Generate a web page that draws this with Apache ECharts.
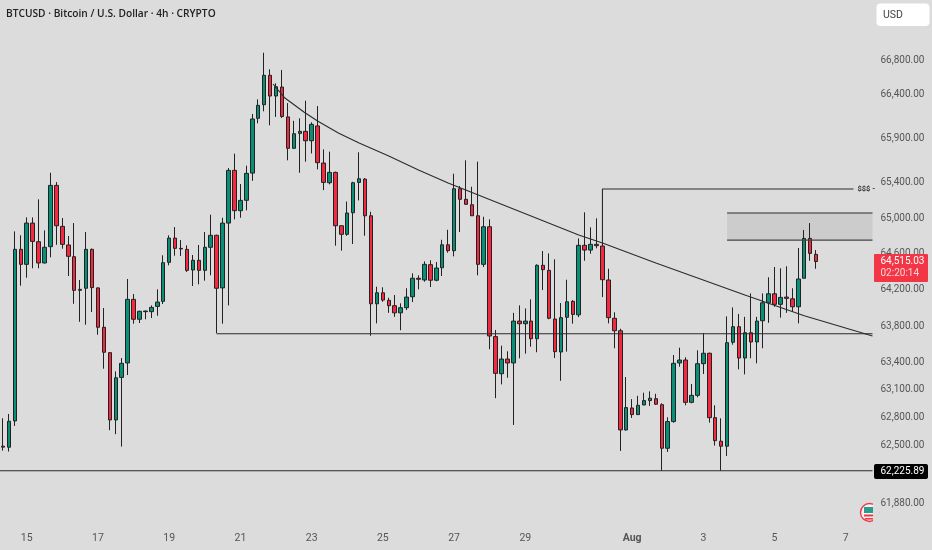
<!DOCTYPE html>
<html>
<head>
<meta charset="utf-8">
<script src="https://cdn.jsdelivr.net/npm/echarts@6/dist/echarts.min.js"></script>
<style>html,body{margin:0;padding:0;background:#dcdcdc}#c{width:932px;height:550px}</style>
</head>
<body>
<div id="c"></div>
<script>
const opens=[62490,62479,62763,64651,64484,64945,64736,64499,64681,65369,64908,64700,64569,64206,64218,64651,64222,63787,63508,62774,
63237,63395,64095,63875,63959,63959,64017,64073,64506,64777,64662,64651,64421,64529,64417,64674,64808,64222,64945,65539,
65084,65201,65508,66131,66286,66624,66386,66489,66147,65789,65959,65982,65875,66044,65622,65399,65516,64915,64819,65061,
65403,65440,65027,64046,64168,64084,64025,63946,64003,64124,64329,64310,64480,64307,64446,64702,64636,65331,65212,65151,
65027,64484,64904,63684,63277,63438,63395,63855,63826,63855,63661,64473,64417,63878,63515,63897,64073,63924,64696,64643,
64707,64688,64310,63886,63749,62666,62904,62832,62937,62984,63005,62940,62468,62756,63395,63427,62965,63041,63387,63501,
62799,62544,62490,63622,63793,63449,63727,63625,63859,64057,64157,64040,64120,64101,64013,64329,64773,64595];
const closes=[62480,62760,64651,64484,64945,64740,64499,64674,65369,64915,64707,64573,64195,64195,64651,64225,63787,63512,62774,63233,
63391,64095,63875,63963,63966,64006,64065,64502,64777,64662,64655,64417,64529,64417,64674,64808,64218,64945,65539,65084,
65200,65505,66123,66279,66624,66386,66493,66152,65789,65955,65982,65875,66062,65626,65403,65516,64915,64819,65058,65399,
65444,65027,64046,64168,64087,64025,63946,64003,64120,64329,64318,64484,64307,64443,64702,64636,65331,65212,65156,65027,
64484,64904,63691,63281,63438,63395,63855,63826,63855,63661,64473,64425,63886,63519,63893,64068,63929,64696,64643,64707,
64692,64313,63893,63749,62666,62908,62832,62933,62984,63010,62945,62468,62756,63391,63427,62965,63041,63387,63501,62799,
62550,62490,63617,63793,63449,63727,63625,63855,64057,64157,64040,64117,64106,64013,64321,64773,64606,64515.03];
const lows=[62442,62432,62709,64247,64335,64440,64440,64495,64562,64702,64658,64354,64046,63847,63815,63955,63705,63332,62663,62620,
62486,63263,63826,63834,63875,63889,63914,64043,64473,64580,64577,64399,64243,64262,64302,64362,63721,63826,64028,64987,
65005,65088,65421,66074,66211,66051,66147,66134,65653,65784,65512,65637,65731,65550,65316,65381,64692,64636,64803,64711,
65200,64803,63694,63830,64068,63946,63902,63754,63977,64065,64206,64291,64232,64296,64354,64614,64573,64845,65151,65024,
64362,64454,63545,63010,63161,63233,62720,63446,63497,63573,63512,64198,63875,63449,63200,63519,63826,63899,64524,64602,
64662,64120,63830,63556,62439,62658,62796,62828,62933,62926,62937,62226,62428,62745,63354,62933,62955,63020,63274,62745,
62496,62226,62385,63595,63325,63270,63446,63391,63556,63836,64013,63893,63946,63957,63830,64329,64524,64435];
const highs=[62792,62839,64852,64808,65009,65009,65212,64863,65512,65406,65002,64800,64945,64310,64845,64660,64229,63999,63510,63303,
63449,64321,64154,63970,63970,64028,64206,64585,64808,64900,64755,64696,64588,64700,64845,65039,64815,65005,65565,65728,
65384,65592,66180,66348,66884,66693,66532,66685,66305,66102,66131,66332,66085,66271,65777,65751,65525,64920,65187,65410,
65744,65452,65072,64235,64229,64113,64143,64051,64218,64384,64362,64517,64529,64510,64758,64870,65501,65362,65653,65354,
65637,65016,64987,63757,63584,63523,63946,64028,63995,64095,64484,64632,64606,64540,64054,64313,64087,64773,65066,64897,
64998,64736,64435,63952,63771,63241,63000,63036,63070,63085,63058,62955,62803,63482,63562,63457,63165,63534,63721,63508,
62933,62792,63907,64006,63934,63902,64161,63902,64161,64340,64454,64440,64462,64218,64666,64868,64945,64643];

const categoryCount=147;
const dayTickIndex=[4,16,28,40,52,64,76,88,106,118,130,142];
const dayTickLabels=['15','17','19','21','23','25','27','29','Aug','3','5','7'];
const priceTicks=[66800,66400,65900,65400,65000,64600,64200,63800,63400,63100,62800,62500,61880];
const priceMin=61656, priceMax=67496;

const trendIndex=[45.5,47.5,50.7,53,56.5,60,65,70,75,86,97,101,110,125,135,146.5];
const trendPrice=[66524,66363,66203,66100,65963,65849,65701,65543,65395,65103,64811,64721,64499,64143,63913,63691];
const supportPrice=63715, supportStart=36;
const floorPrice=62225.89;
const targetPrice=65328, targetStart=101, targetEnd=143.3, targetBase=64700;
const boxTop=65058, boxBottom=64755, boxStart=122, axisEnd=146.5;

const categories=[];
for(let i=0;i<categoryCount;i++){const k=dayTickIndex.indexOf(i);categories.push(k>=0?dayTickLabels[k]:'');}
const candles=opens.map((o,i)=>[o,closes[i],lows[i],highs[i]]);
const bg='#dcdcdc', ink='#2b2b2b', up='#088f78', down='#f5283f';
const fmt=v=>Number(v).toLocaleString('en-US',{minimumFractionDigits:2,maximumFractionDigits:2});
const overlay=(name,data,extra)=>Object.assign({name,type:'line',xAxisIndex:1,yAxisIndex:0,data,symbol:'none',silent:true,
  lineStyle:{color:ink,width:1.1},z:5},extra||{});

const chart=echarts.init(document.getElementById('c'),null,{renderer:'canvas'});
chart.setOption({
  animation:false,
  backgroundColor:bg,
  textStyle:{fontFamily:'Roboto'},
  grid:{left:-0.7,top:0,width:873.2,height:524,containLabel:false},
  xAxis:[
    {type:'category',data:categories,boundaryGap:true,axisLine:{show:false},axisTick:{show:false},splitLine:{show:false},
     axisLabel:{interval:0,margin:9,color:'#555',fontSize:10.5,fontFamily:'Roboto',hideOverlap:false,
       rich:{b:{fontWeight:'bold',color:'#555',fontSize:10.5,fontFamily:'Roboto'}},
       formatter:v=>v==='Aug'?'{b|Aug}':v}},
    {type:'value',min:-0.5,max:146.5,show:false,splitLine:{show:false}}
  ],
  yAxis:{type:'log',position:'right',min:priceMin,max:priceMax,axisLine:{show:false},axisTick:{show:false},splitLine:{show:false},minorTick:{show:false},
    axisLabel:{customValues:priceTicks,margin:8,color:'#555',fontSize:10,fontFamily:'Roboto',align:'left',verticalAlignMinLabel:'middle',verticalAlignMaxLabel:'middle',formatter:v=>fmt(v),showMinLabel:true,showMaxLabel:true}},
  series:[
    {name:'BTCUSD',type:'candlestick',data:candles,xAxisIndex:0,yAxisIndex:0,barWidth:4,z:3,silent:true,
      itemStyle:{color:up,color0:down,borderColor:'#222',borderColor0:'#222',borderColorDoji:'#222',borderWidth:1}},
    overlay('Support',[[supportStart,supportPrice],[axisEnd,supportPrice]]),
    overlay('Floor',[[-0.5,floorPrice],[axisEnd,floorPrice]]),
    overlay('Trend',trendIndex.map((x,i)=>[x,trendPrice[i]])),
    overlay('Target',[[targetStart,targetBase],[targetStart,targetPrice],[targetEnd,targetPrice]],{
      endLabel:{show:true,formatter:'$$$ -',color:'#333',fontSize:7.5,fontWeight:'bold',fontFamily:'Roboto',distance:4}}),
    overlay('BoxTop',[[boxStart,boxTop],[axisEnd,boxTop]],{
      markArea:{silent:true,itemStyle:{color:'#cccccc'},data:[[{coord:[boxStart,boxTop]},{coord:[axisEnd,boxBottom]}]]}}),
    overlay('BoxBottom',[[boxStart,boxBottom],[axisEnd,boxBottom]],{lineStyle:{color:'#444',width:1.2}})
  ],
  graphic:[
    {type:'text',left:6,top:9,style:{text:'BTCUSD · Bitcoin / U.S. Dollar · 4h · CRYPTO',fill:'#222',font:'600 10.2px "Open Sans"'}},
    {type:'rect',shape:{x:876.5,y:3.5,width:53,height:22.5,r:4},style:{fill:'#fff'},z:10},
    {type:'text',left:883,top:10,style:{text:'USD',fill:'#444',font:'10.5px Roboto'},z:11},
    {type:'rect',shape:{x:874,y:254,width:54,height:28,r:1},style:{fill:'#f23645'},z:10},
    {type:'text',left:880.5,top:256.5,style:{text:'64,515.03',fill:'#fff',font:'10px Roboto'},z:11},
    {type:'text',left:880.5,top:268.5,style:{text:'02:20:14',fill:'#ffd5d8',font:'10px Roboto'},z:11},
    {type:'rect',shape:{x:874,y:464,width:54,height:15,r:2},style:{fill:'#000'},z:10},
    {type:'text',left:880.5,top:466,style:{text:'62,225.89',fill:'#fff',font:'10px Roboto'},z:11},
    {type:'circle',shape:{cx:869.5,cy:512.5,r:9},style:{fill:'#f4f4f4',stroke:'#f23645',lineWidth:1.4},z:10},
    {type:'rect',shape:{x:864,y:507,width:9,height:6},style:{fill:'#2a9d8f'},z:11},
    {type:'rect',shape:{x:864,y:514.5,width:9,height:2},style:{fill:'#f23645'},z:11},
    {type:'rect',shape:{x:865,y:518,width:8,height:1.6},style:{fill:'#f23645'},z:11},
    {type:'rect',shape:{x:873,y:500,width:6,height:26},style:{fill:bg},z:12}
  ]
});
</script>
</body>
</html>
